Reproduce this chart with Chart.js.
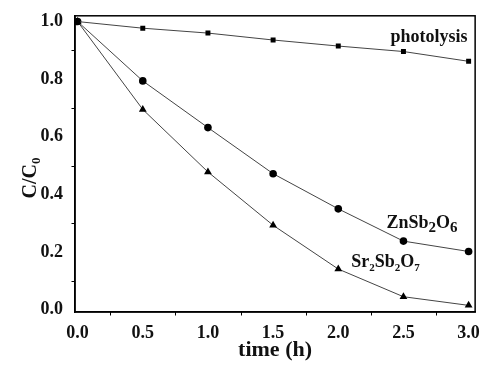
<!DOCTYPE html>
<html><head><meta charset="utf-8">
<script src="https://cdn.jsdelivr.net/npm/chart.js@4"></script>
<style>html,body{margin:0;padding:0;background:#fff}#w{width:485px;height:365px}</style>
</head><body><div id="w"><canvas id="c"></canvas></div>
<script>
const times = [0, 0.5, 1.0, 1.5, 2.0, 2.5, 3.0];
const photolysis = [1.0, 0.977, 0.960, 0.936, 0.915, 0.896, 0.862];
const znSb2O6 = [1.0, 0.794, 0.632, 0.472, 0.350, 0.238, 0.202];
const sr2Sb2O7 = [1.0, 0.695, 0.478, 0.293, 0.141, 0.045, 0.015];
const xTicks = [0, 0.5, 1.0, 1.5, 2.0, 2.5, 3.0];
const yTicks = [0, 0.2, 0.4, 0.6, 0.8, 1.0];

const FONT = '"Liberation Serif", "Times New Roman", serif';
const mk = (arr) => times.map((t, i) => ({x: t, y: arr[i]}));
const ds = (label, arr, style, r) => ({
  label, data: mk(arr), borderColor: '#444', borderWidth: 1,
  pointStyle: style, pointRadius: r, pointBackgroundColor: '#000', pointBorderColor: '#000',
  pointBorderWidth: 0, showLine: true, tension: 0
});

function drawSubText(ctx, x, y, parts, size, subScale, subDrop) {
  let cx = x;
  for (const [txt, sub] of parts) {
    ctx.font = 'bold ' + (sub ? Math.round(size * subScale) : size) + 'px ' + FONT;
    ctx.fillText(txt, cx, sub ? y + size * subDrop : y);
    cx += ctx.measureText(txt).width;
  }
}

const deco = {
  id: 'deco',
  afterDraw(chart) {
    const {ctx, chartArea: a, scales: {x, y}} = chart;
    ctx.save();
    ctx.strokeStyle = '#000';
    ctx.lineWidth = 1.5;
    ctx.strokeRect(a.left, a.top, a.right - a.left, a.bottom - a.top);
    // minor ticks
    ctx.lineWidth = 1;
    ctx.beginPath();
    for (let v = 0.1; v < 1.0; v += 0.2) {
      const py = Math.round(y.getPixelForValue(v)) + 0.5;
      ctx.moveTo(a.left - 3.5, py); ctx.lineTo(a.left, py);
    }
    for (let v = 0.25; v < 3.0; v += 0.5) {
      const px = Math.round(x.getPixelForValue(v)) + 0.5;
      ctx.moveTo(px, a.bottom); ctx.lineTo(px, a.bottom + 3.5);
    }
    ctx.stroke();
    ctx.fillStyle = '#111';
    ctx.textBaseline = 'alphabetic';
    ctx.textAlign = 'left';
    // series labels
    drawSubText(ctx, x.getPixelForValue(2.40), y.getPixelForValue(0.93), [['photolysis', false]], 18, 1, 0);
    drawSubText(ctx, x.getPixelForValue(2.37), y.getPixelForValue(0.285), [['ZnSb', false], ['2', true], ['O', false], ['6', true]], 18, 0.85, 0.22);
    drawSubText(ctx, x.getPixelForValue(2.10), y.getPixelForValue(0.148), [['Sr', false], ['2', true], ['Sb', false], ['2', true], ['O', false], ['7', true]], 18, 0.6, 0.2);
    // y-axis title
    ctx.translate(36, 178);
    ctx.rotate(-Math.PI / 2);
    ctx.font = 'bold 20px ' + FONT;
    const w1 = ctx.measureText('C/C').width;
    ctx.font = 'bold 13px ' + FONT;
    const w2 = ctx.measureText('0').width;
    drawSubText(ctx, -(w1 + w2) / 2, 0, [['C/C', false], ['0', true]], 20, 0.65, 0.22);
    ctx.restore();
  }
};

new Chart(document.getElementById('c'), {
  type: 'scatter',
  data: { datasets: [
    ds('photolysis', photolysis, 'rect', 3.5),
    ds('ZnSb2O6', znSb2O6, 'circle', 3.8),
    ds('Sr2Sb2O7', sr2Sb2O7, 'triangle', 4.5)
  ]},
  options: {
    responsive: true, maintainAspectRatio: false, animation: false,
    layout: { padding: { top: 14, right: 8, left: 0, bottom: 0 } },
    plugins: { legend: { display: false }, tooltip: { enabled: false } },
    scales: {
      x: {
        type: 'linear', min: -0.02, max: 3.05,
        afterBuildTicks: (s) => { s.ticks = xTicks.map(v => ({value: v})); },
        ticks: { color: '#111', font: { family: FONT, size: 18, weight: 'bold' }, padding: 5,
          callback: (v) => v.toFixed(1), maxRotation: 0, autoSkip: false },
        grid: { display: false, drawTicks: true, tickLength: 6, tickColor: '#000', tickWidth: 1 },
        border: { display: true, color: '#000', width: 1.5 },
        title: { display: true, text: 'time (h)', color: '#111', font: { family: FONT, size: 22, weight: 'bold' }, padding: { top: 0, bottom: 1 } },
        afterFit: (s) => { s.height = 53; }
      },
      y: {
        type: 'linear', min: -0.008, max: 1.02,
        afterBuildTicks: (s) => { s.ticks = yTicks.map(v => ({value: v})); },
        ticks: { color: '#111', font: { family: FONT, size: 18, weight: 'bold' }, padding: 5,
          callback: (v) => v.toFixed(1), autoSkip: false },
        grid: { display: false, drawTicks: true, tickLength: 7, tickColor: '#000', tickWidth: 1 },
        border: { display: true, color: '#000', width: 1.5 },
        afterFit: (s) => { s.width = 75; }
      }
    }
  },
  plugins: [deco]
});
</script></body></html>
